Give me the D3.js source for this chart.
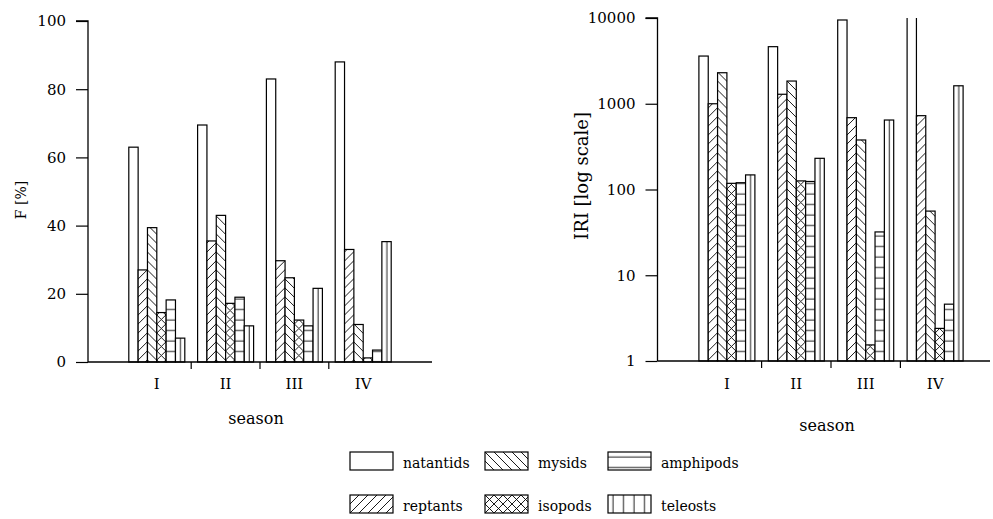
<!DOCTYPE html>
<html>
<head>
<meta charset="utf-8">
<script src="https://cdn.jsdelivr.net/npm/d3@7"></script>
<style>
  html, body { margin: 0; padding: 0; background: #fff; }
  svg { display: block; }
  text { font-family: "DejaVu Serif", "Liberation Serif", serif; fill: #000; }
</style>
</head>
<body>
<script>
// ---- data ----
const seasons = ["I", "II", "III", "IV"];
const species = ["natantids", "reptants", "mysids", "isopods", "amphipods", "teleosts"];
// frequency of occurrence F [%], per species, seasons I..IV
const fNatantids = [63, 69.5, 83, 88];
const fReptants  = [27, 35.5, 29.7, 33];
const fMysids    = [39.4, 43, 24.7, 11];
const fIsopods   = [14.5, 17.2, 12.3, 1.2];
const fAmphipods = [18.2, 19, 10.6, 3.5];
const fTeleosts  = [7, 10.6, 21.6, 35.3];
// IRI (log scale), per species, seasons I..IV
const iriNatantids = [3600, 4630, 9480, 12000];
const iriReptants  = [1000, 1290, 688, 726];
const iriMysids    = [2300, 1840, 378, 56];
const iriIsopods   = [118, 126, 1.54, 2.4];
const iriAmphipods = [120, 124, 32, 4.6];
const iriTeleosts  = [148, 231, 646, 1620];
const fTicks = [0, 20, 40, 60, 80, 100];
const iriTicks = [1, 10, 100, 1000, 10000];
// legend order as in the reference (two rows)
const legendRows = [["natantids", "mysids", "amphipods"], ["reptants", "isopods", "teleosts"]];

const fData = { natantids: fNatantids, reptants: fReptants, mysids: fMysids,
                isopods: fIsopods, amphipods: fAmphipods, teleosts: fTeleosts };
const iriData = { natantids: iriNatantids, reptants: iriReptants, mysids: iriMysids,
                  isopods: iriIsopods, amphipods: iriAmphipods, teleosts: iriTeleosts };

const W = 993, H = 519;
const svg = d3.select("body").append("svg").attr("width", W).attr("height", H);
svg.append("rect").attr("width", W).attr("height", H).attr("fill", "#fff");

// ---- patterns ----
const defs = svg.append("defs");
const hs = 9;
function pat(id, w, h, d) {
  const p = defs.append("pattern").attr("id", id).attr("patternUnits", "userSpaceOnUse")
    .attr("width", w).attr("height", h);
  p.append("rect").attr("width", w).attr("height", h).attr("fill", "#fff");
  p.append("path").attr("d", d).attr("stroke", "#000").attr("stroke-width", 0.9).attr("fill", "none");
}
pat("p-reptants", hs, hs, `M${-2},2 L2,${-2} M0,${hs} L${hs},0 M${hs-2},${hs+2} L${hs+2},${hs-2}`);
pat("p-mysids", hs, hs, `M${-2},${hs-2} L2,${hs+2} M0,0 L${hs},${hs} M${hs-2},${-2} L${hs+2},2`);
pat("p-isopods", hs, hs, `M${-2},2 L2,${-2} M0,${hs} L${hs},0 M${hs-2},${hs+2} L${hs+2},${hs-2} M${-2},${hs-2} L2,${hs+2} M0,0 L${hs},${hs} M${hs-2},${-2} L${hs+2},2`);
pat("p-amphipods", 20, 10.5, "M0,5 H20");
pat("p-teleosts", 10.5, 20, "M5,0 V20");
const fillOf = s => s === "natantids" ? "#fff" : `url(#p-${s})`;

// ---- one panel ----
function panel(cfg) {
  const { x0, x1, yScale, data, ticks, fmt, yTitle, titleX, titleY, titleSize, seasonY, clipTop } = cfg;
  const g = svg.append("g");
  const xs = d3.scaleLinear().domain([0, 5]).range([x0, x1]);
  const inner = d3.scaleBand().domain(species).range([-28, 28]).padding(0);
  const base = yScale.range()[0];

  const clipId = "clip" + Math.round(x0);
  defs.append("clipPath").attr("id", clipId).append("rect")
    .attr("x", x0).attr("y", clipTop).attr("width", 400).attr("height", base - clipTop + 2);

  const bars = g.append("g").attr("clip-path", `url(#${clipId})`);
  seasons.forEach((s, i) => {
    species.forEach(sp => {
      const v = data[sp][i];
      const bx = xs(i + 1) + inner(sp);
      const by = yScale(v);
      const bg = bars.append("g").attr("transform", `translate(${bx},0)`);
      bg.append("rect").attr("x", 0).attr("y", by)
        .attr("width", inner.bandwidth()).attr("height", base - by)
        .attr("fill", fillOf(sp)).attr("stroke", "#000").attr("stroke-width", 1.2);
    });
  });

  // y axis
  const yAxis = d3.axisLeft(yScale).tickValues(ticks).tickFormat(fmt).tickSize(12).tickPadding(10);
  const ya = g.append("g").attr("transform", `translate(${x0},0)`).call(yAxis);
  ya.select(".domain").attr("stroke-width", 1.3).attr("d", `M-12,${yScale(ticks[ticks.length-1])}H0V${base}`);
  ya.selectAll(".tick line").attr("stroke-width", 1.2);
  ya.selectAll(".tick text").style("font-size", "15px").style("font-family", "DejaVu Serif");

  // x axis baseline with boundary ticks
  g.append("line").attr("x1", x0).attr("x2", Math.min(x1, 990)).attr("y1", base).attr("y2", base)
    .attr("stroke", "#000").attr("stroke-width", 1.3);
  [1.5, 2.5, 3.5].forEach(t => {
    g.append("line").attr("x1", xs(t)).attr("x2", xs(t)).attr("y1", base).attr("y2", base + 7)
      .attr("stroke", "#000").attr("stroke-width", 1.2);
  });
  seasons.forEach((s, i) => {
    g.append("text").attr("x", xs(i + 1)).attr("y", 389).attr("text-anchor", "middle")
      .style("font-size", "15px").text(s);
  });
  g.append("text").attr("x", (x0 + x1) / 2 - 4).attr("y", seasonY).attr("text-anchor", "middle")
    .style("font-size", "16px").text("season");
  g.append("text").attr("transform", `translate(${titleX},${titleY}) rotate(-90)`)
    .attr("text-anchor", "middle").attr("dy", "0.35em").style("font-size", titleSize).text(yTitle);
}

panel({
  x0: 88, x1: 432,
  yScale: d3.scaleLinear().domain([0, 100]).range([362, 21]),
  data: fData, ticks: fTicks, fmt: d3.format("d"),
  yTitle: "F [%]", titleX: 21, titleY: 200, titleSize: "14px", seasonY: 424, clipTop: 0
});
panel({
  x0: 657.5, x1: 1004.5,
  yScale: d3.scaleLog().domain([1, 10000]).range([361, 18]),
  data: iriData, ticks: iriTicks, fmt: d3.format("d"),
  yTitle: "IRI [log scale]", titleX: 582, titleY: 176, titleSize: "18px", seasonY: 431, clipTop: 18
});

// ---- legend ----
const colX = [350, 485, 608];
const rowY = [452, 495];
legendRows.forEach((row, r) => {
  row.forEach((sp, c) => {
    const lg = svg.append("g").attr("transform", `translate(${colX[c]},${rowY[r]})`);
    lg.append("rect").attr("width", 43).attr("height", 18)
      .attr("fill", fillOf(sp)).attr("stroke", "#000").attr("stroke-width", 1.2);
    lg.append("text").attr("x", 53).attr("y", 15.5).style("font-size", "14px").text(sp);
  });
});
</script>
</body>
</html>
